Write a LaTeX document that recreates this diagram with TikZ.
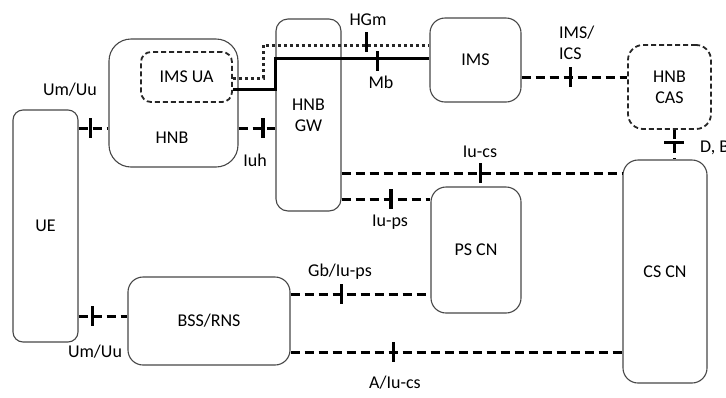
\documentclass[tikz,border=0pt]{standalone}
\usepackage{fontspec}
\setmainfont{Carlito}
\begin{document}
\begin{tikzpicture}[x=1pt,y=-1pt,
  txt/.style={font=\fontsize{18}{21}\selectfont},
  box/.style={txt, draw=black!72, line width=1.1pt, align=center, inner sep=0pt, fill=white},
  dbox/.style={box, dash pattern=on 5pt off 3pt, line width=1.8pt, draw=black!85},
  iface/.style={draw=black, line width=3pt, dash pattern=on 9pt off 5pt},
  solidl/.style={draw=black, line width=3pt},
  dotl/.style={draw=black!85, line width=3pt, dash pattern=on 3pt off 3pt},
  tickm/.style={sloped, fill=black, draw=none, shape=rectangle, inner sep=0pt,
    minimum width=3.2pt, minimum height=20pt},
  lbl/.style={txt, inner sep=0pt}]
\useasboundingbox (0,0) rectangle (726,397);

% network elements
\node[box, minimum width=65pt, minimum height=232pt, rounded corners=10pt] (ue) at (45.5,226) {UE};
\node[box, minimum width=129pt, minimum height=128pt, rounded corners=22pt, text depth=0pt] (hnb) at (173.5,103) {};
\node[lbl] at (172,138) {HNB};
\node[dbox, minimum width=91pt, minimum height=50pt, rounded corners=10pt] (imsua) at (186.5,77) {IMS UA};
\node[box, minimum width=65pt, minimum height=192pt, rounded corners=12pt] (hnbgw) at (308.5,115) {HNB\\GW};
\node[box, minimum width=91pt, minimum height=84pt, rounded corners=15pt] (ims) at (475.5,60) {IMS};
\node[dbox, minimum width=83pt, minimum height=84pt, rounded corners=15pt] (hnbcas) at (669.5,87) {HNB\\CAS};
\node[box, minimum width=84pt, minimum height=223pt, rounded corners=15pt] (cscn) at (665,271.5) {CS CN};
\node[box, minimum width=90pt, minimum height=126pt, rounded corners=15pt] (pscn) at (476,250) {PS CN};
\node[box, minimum width=162pt, minimum height=88pt, rounded corners=15pt] (bss) at (209,321) {BSS/RNS};

% HGm (dotted) and Mb (solid) from IMS UA to IMS
\coordinate (hgmlow) at (263,78);
\coordinate (hgmhigh) at (263,45);
\draw[dotl] (imsua.east |- 0,78) -- (hgmlow) -- (hgmhigh)
  -- node[tickm, pos=0.623, yshift=3pt]{} (ims.west |- 0,45);
\draw[solidl] (imsua.east |- 0,89) -- (hnbgw.west |- 0,89) -- (hnbgw.west |- 0,58)
  -- node[tickm, pos=0.662, yshift=-3pt]{} (ims.west |- 0,58);
\node[lbl] (hgm) at (368,20) {HGm};
\node[lbl] (mb) at (381,82) {Mb};

% dashed interfaces
\draw[iface] (ue.east |- 0,128) -- node[tickm, pos=0.39]{} (hnb.west |- 0,128);
\node[lbl] (umuu1) at (70,90) {Um/Uu};

\draw[iface] (hnb.east |- 0,128) -- node[tickm, pos=0.66]{} (hnbgw.west |- 0,128);
\node[lbl] (iuh) at (255,160) {Iuh};

\draw[iface] (ims.east |- 0,77) -- node[tickm, pos=0.467]{} (hnbcas.west |- 0,77);
\node[lbl, align=left, anchor=west] (imsics) at (559,43) {IMS/\\ICS};

\draw[iface] (674,0 |- hnbcas.south) -- node[tickm, pos=0.42]{} (674,0 |- cscn.north);
\node[lbl, anchor=west] (db) at (700,148) {D, B};

\draw[iface] (hnbgw.east |- 0,173) -- node[tickm, pos=0.496]{} (cscn.west |- 0,173);
\node[lbl] (iucs) at (480,152) {Iu-cs};

\draw[iface] (hnbgw.east |- 0,199) -- node[tickm, pos=0.556]{} (pscn.west |- 0,199);
\node[lbl] (iups) at (390,222) {Iu-ps};

\draw[iface] (bss.east |- 0,294) -- node[tickm, pos=0.362]{} (pscn.west |- 0,294);
\node[lbl] (gb) at (340,272) {Gb/Iu-ps};

\draw[iface] (bss.east |- 0,352) -- node[tickm, pos=0.309]{} (cscn.west |- 0,352);
\node[lbl] (aiucs) at (395,383) {A/Iu-cs};

\draw[iface] (ue.east |- 0,316) -- node[tickm, pos=0.28]{} (bss.west |- 0,316);
\node[lbl] (umuu2) at (95,352) {Um/Uu};
\end{tikzpicture}
\end{document}
